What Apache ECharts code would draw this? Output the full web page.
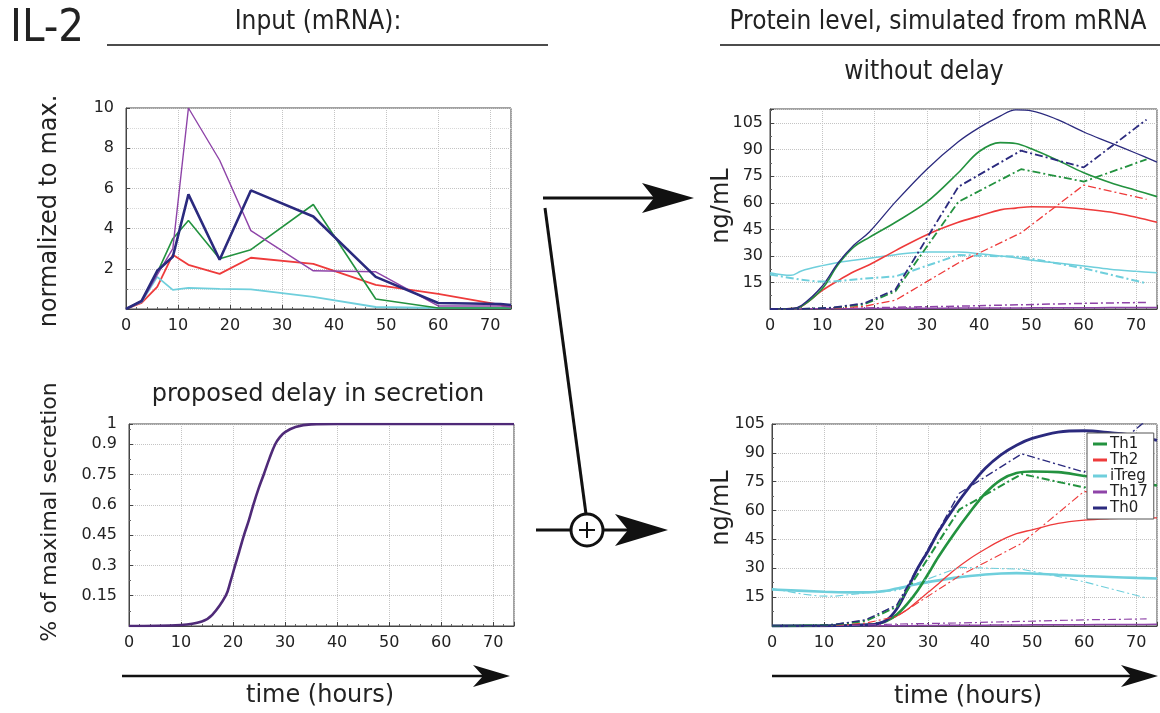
<!DOCTYPE html>
<html>
<head>
<meta charset="utf-8">
<script src="https://cdn.jsdelivr.net/npm/echarts@6/dist/echarts.min.js"></script>
<style>
  html, body { margin: 0; padding: 0; background: #fff; }
  #main { width: 1160px; height: 713px; }
</style>
</head>
<body>
<div id="main"></div>
<script>
  // mRNA input (normalized), sampled time points
  var tMrna = [0, 3, 6, 9, 12, 18, 24, 36, 48, 60, 72, 74];
  var mrnaTh1 = [0, 0.4, 1.8, 3.5, 4.4, 2.5, 2.95, 5.2, 0.5, 0.05, 0.05, 0.05];
  var mrnaTh2 = [0, 0.3, 1.1, 2.7, 2.2, 1.75, 2.55, 2.25, 1.2, 0.75, 0.2, 0.1];
  var mrnaITreg = [0, 0.35, 1.6, 0.95, 1.05, 1.0, 0.98, 0.6, 0.1, 0.05, 0.05, 0.05];
  var mrnaTh17 = [0, 0.35, 1.7, 3.0, 10, 7.4, 3.9, 1.9, 1.85, 0.15, 0.15, 0.1];
  var mrnaTh0 = [0, 0.4, 1.9, 2.6, 5.7, 2.45, 5.9, 4.6, 1.6, 0.3, 0.25, 0.2];

  // proposed delay in secretion
  var delayT = [0, 10, 14, 16, 18.6, 19.5, 20.4, 21.2, 22.1, 23, 23.9, 24.9, 25.9, 27, 28.1, 29, 30, 32, 35, 40, 74];
  var delayV = [0, 0.005, 0.022, 0.055, 0.15, 0.22, 0.3, 0.37, 0.45, 0.52, 0.6, 0.68, 0.75, 0.83, 0.9, 0.935, 0.96, 0.985, 0.998, 1, 1];

  // measured protein (dash-dot), same in both right panels
  var tData = [0, 3, 6, 9, 12, 18, 24, 36, 48, 60, 72];
  var dTh1 = [0, 0, 0.1, 0.3, 0.7, 2.6, 10, 60.5, 79, 72, 84.5];
  var dTh2 = [0, 0, 0.1, 0.2, 0.4, 1.5, 5, 26, 43, 70, 62];
  var dITreg = [19.5, 18, 16.5, 15.6, 15.5, 17.2, 18.4, 30.5, 29.5, 23, 14.5];
  var dTh17 = [0, 0, 0, 0.1, 0.2, 0.5, 1, 1.6, 2.4, 3.2, 3.7];
  var dTh0 = [0, 0, 0.1, 0.3, 0.8, 3.2, 11, 69, 89.5, 80, 107];

  // simulated without delay
  var tSim = [0, 4, 6, 10, 13, 16, 19, 24, 30, 36, 40, 44, 47, 50, 55, 60, 65, 70, 74];
  var nTh0 = [0, 0.2, 2, 13, 26, 36, 43.5, 60.5, 79, 94.5, 102.5, 109, 112.5, 112, 107, 100, 94, 88, 83];
  var nTh1 = [0, 0.2, 1.5, 11.5, 25, 35, 40.5, 49, 60.5, 77, 89, 94, 93.5, 90.5, 84, 77, 71.5, 67, 63.5];
  var nTh2 = [0, 0.2, 1.5, 10.5, 16, 21, 25, 33, 42, 49, 52.5, 56, 57, 57.8, 57.6, 56.5, 54.8, 51.8, 49];
  var nITreg = [20.5, 19, 21.5, 24.5, 26.3, 27.5, 28.7, 30.7, 32.2, 32.2, 31.2, 30, 29, 27.5, 26, 24.3, 22.5, 21.3, 20.5];
  var nTh17 = [0, 0, 0.05, 0.1, 0.15, 0.2, 0.25, 0.35, 0.4, 0.5, 0.55, 0.6, 0.6, 0.65, 0.7, 0.75, 0.8, 0.85, 0.9];

  // simulated with delay
  var tDel = [0, 10, 15, 18, 20, 22, 24, 26, 28, 30, 32, 35, 38, 41, 44, 47, 50, 55, 60, 65, 70, 74];
  var wTh0 = [0, 0.1, 0.3, 0.6, 1, 3, 9, 19, 30, 39, 49, 61.5, 72.5, 82, 89, 94, 97.5, 100.8, 101.5, 100.5, 99, 96.5];
  var wTh1 = [0, 0.1, 0.3, 0.6, 1, 2.5, 6, 11.5, 18.5, 27, 36, 48, 59, 69, 76, 79.5, 80.3, 80, 78, 76.5, 74.5, 73];
  var wTh2 = [0, 0.1, 0.3, 0.6, 1, 2.5, 5.2, 8.5, 13, 17.5, 22, 29, 35, 40, 44.5, 48, 50, 53.3, 55, 55.8, 56.2, 56.2];
  var wITreg = [19, 17.8, 17.5, 17.5, 17.7, 18.3, 19.5, 20.7, 21.8, 22.8, 23.7, 25, 26, 26.8, 27.3, 27.5, 27.3, 26.6, 26, 25.5, 25, 24.7];
  var wTh17 = [0, 0, 0, 0, 0.05, 0.1, 0.1, 0.15, 0.2, 0.25, 0.3, 0.35, 0.4, 0.45, 0.5, 0.55, 0.6, 0.65, 0.7, 0.75, 0.8, 0.85];

  var C_TH1 = '#23923f', C_TH2 = '#ee3b3b', C_ITREG = '#6fcfdc', C_TH17 = '#8e44a8', C_TH0 = '#2b2a7e';
  var DASHDOT = [8, 3, 2, 3];
  var FONT = 'DejaVu Sans';
  var TITLE_FONT = "'DejaVu Sans Condensed', 'DejaVu Sans'";

  function pair(xs, ys) {
    return xs.map(function (x, i) { return [x, ys[i]]; });
  }

  var grids = [
    { left: 126, top: 108, width: 385, height: 201 },
    { left: 129, top: 424, width: 385, height: 202 },
    { left: 770, top: 109, width: 387, height: 200 },
    { left: 772, top: 424, width: 388, height: 202 }
  ];
  grids.forEach(function (g) {
    g.show = true; g.borderColor = '#444'; g.borderWidth = 1; g.backgroundColor = '#fff';
  });

  function xAx(i) {
    return {
      gridIndex: i, type: 'value', min: 0, max: 74, interval: 10,
      axisLine: { onZero: false, lineStyle: { color: '#444' } },
      axisTick: { inside: true, length: 4, lineStyle: { color: '#444' } },
      minorTick: { show: true, splitNumber: 5, length: 2, lineStyle: { color: '#666' } },
      splitLine: { show: true, lineStyle: { type: 'dotted', color: '#c4c4c4' } },
      axisLabel: {
        color: '#222', fontFamily: FONT, fontSize: 16, margin: 9,
        formatter: function (v) { return Math.abs(v % 10) < 1e-6 ? String(v) : ''; }
      }
    };
  }
  function yAx(i, max, interval, step, showMax) {
    return {
      gridIndex: i, type: 'value', min: 0, max: max, interval: interval,
      axisLine: { lineStyle: { color: '#444' } },
      axisTick: { inside: true, length: 4, lineStyle: { color: '#444' } },
      minorTick: { show: true, splitNumber: 2, length: 2, lineStyle: { color: '#666' } },
      splitLine: { show: true, lineStyle: { type: 'dotted', color: '#c4c4c4' } },
      minorSplitLine: { show: i === 0, lineStyle: { type: 'dotted', color: '#d8d8d8' } },
      axisLabel: {
        color: '#222', fontFamily: FONT, fontSize: 16, margin: i >= 2 ? 7 : 12,
        formatter: function (v) {
          if (v <= 0) return '';
          if (showMax && Math.abs(v - max) < 1e-6) return String(max);
          var k = v / step;
          return Math.abs(k - Math.round(k)) < 1e-6 ? String(+v.toFixed(2)) : '';
        }
      }
    };
  }

  function line(name, gi, xs, ys, color, width, type, smooth) {
    return {
      name: name, type: 'line', xAxisIndex: gi, yAxisIndex: gi,
      data: pair(xs, ys), showSymbol: false, symbol: 'none',
      smooth: smooth ? (smooth === true ? 0.35 : smooth) : false, animation: false,
      lineStyle: { color: color, width: width, type: type || 'solid' },
      itemStyle: { color: color }
    };
  }

  var series = [
    // input mRNA
    line('Th2 mRNA', 0, tMrna, mrnaTh2, C_TH2, 1.8),
    line('iTreg mRNA', 0, tMrna, mrnaITreg, C_ITREG, 1.8),
    line('Th1 mRNA', 0, tMrna, mrnaTh1, C_TH1, 1.6),
    line('Th17 mRNA', 0, tMrna, mrnaTh17, C_TH17, 1.4),
    line('Th0 mRNA', 0, tMrna, mrnaTh0, C_TH0, 2.6),
    // delay
    line('delay', 1, delayT, delayV, '#4f2a78', 2.6, 'solid', 0.4),
    // without delay
    line('Th17 sim', 2, tSim, nTh17, C_TH17, 1.5, 'solid', true),
    line('iTreg sim', 2, tSim, nITreg, C_ITREG, 1.5, 'solid', true),
    line('Th2 sim', 2, tSim, nTh2, C_TH2, 1.6, 'solid', true),
    line('Th1 sim', 2, tSim, nTh1, C_TH1, 1.6, 'solid', true),
    line('Th0 sim', 2, tSim, nTh0, C_TH0, 1.3, 'solid', true),
    line('Th17 data', 2, tData, dTh17, C_TH17, 1.5, DASHDOT),
    line('iTreg data', 2, tData, dITreg, C_ITREG, 2, DASHDOT),
    line('Th2 data', 2, tData, dTh2, C_TH2, 1.3, DASHDOT),
    line('Th1 data', 2, tData, dTh1, C_TH1, 1.8, DASHDOT),
    line('Th0 data', 2, tData, dTh0, C_TH0, 1.8, DASHDOT),
    // with delay
    line('Th17', 3, tDel, wTh17, C_TH17, 1.5, 'solid', true),
    line('iTreg', 3, tDel, wITreg, C_ITREG, 2.6, 'solid', true),
    line('Th2', 3, tDel, wTh2, C_TH2, 1.3, 'solid', true),
    line('Th1', 3, tDel, wTh1, C_TH1, 2.6, 'solid', true),
    line('Th0', 3, tDel, wTh0, C_TH0, 2.8, 'solid', true),
    line('Th17 data d', 3, tData, dTh17, C_TH17, 1.2, DASHDOT),
    line('iTreg data d', 3, tData, dITreg, C_ITREG, 1.1, DASHDOT),
    line('Th2 data d', 3, tData, dTh2, C_TH2, 1.1, DASHDOT),
    line('Th1 data d', 3, tData, dTh1, C_TH1, 2, DASHDOT),
    line('Th0 data d', 3, tData, dTh0, C_TH0, 1.4, DASHDOT)
  ];

  function txt(x, y, s, size, opts) {
    opts = opts || {};
    return {
      type: 'text', x: x, y: y, rotation: opts.rot || 0, z: 10,
      style: {
        text: s, fill: '#222', fontSize: size, fontFamily: opts.font || FONT,
        align: opts.align || 'center', verticalAlign: 'middle'
      }
    };
  }
  function seg(x1, y1, x2, y2, w) {
    return { type: 'line', z: 10, shape: { x1: x1, y1: y1, x2: x2, y2: y2 }, style: { stroke: '#111', lineWidth: w || 3 } };
  }
  function head(tipX, y, len, half, notch) {
    return {
      type: 'polygon', z: 11,
      shape: { points: [[tipX, y], [tipX - len, y - half], [tipX - len + notch, y], [tipX - len, y + half]] },
      style: { fill: '#111' }
    };
  }

  var graphics = [
    txt(10, 29, 'IL-2', 45, { font: TITLE_FONT, align: 'left' }),
    txt(318, 22, 'Input (mRNA):', 26, { font: TITLE_FONT }),
    seg(107, 45, 548, 45, 1.5),
    txt(938, 22, 'Protein level, simulated from mRNA', 26, { font: TITLE_FONT }),
    seg(720, 45, 1160, 45, 1.5),
    txt(924, 72, 'without delay', 26, { font: TITLE_FONT }),
    txt(318, 395, 'proposed delay in secretion', 24),
    txt(50, 211, 'normalized to max.', 24, { rot: Math.PI / 2 }),
    txt(50, 512, '% of maximal secretion', 22, { rot: Math.PI / 2 }),
    txt(722, 206, 'ng/mL', 24, { rot: Math.PI / 2 }),
    txt(722, 508, 'ng/mL', 24, { rot: Math.PI / 2 }),
    txt(320, 696, 'time (hours)', 24),
    txt(968, 697, 'time (hours)', 24),
    // time arrows
    seg(122, 676, 488, 676, 2.5), head(510, 676, 37, 11, 10),
    seg(772, 676, 1135, 676, 2.5), head(1158, 676, 37, 11, 10),
    // flow arrows in the middle
    seg(543, 198, 656, 198, 3), head(694, 198, 52, 15, 12),
    seg(545, 208, 586, 514, 3),
    seg(536, 530, 571, 530, 3), seg(603, 530, 632, 530, 3), head(668, 530, 53, 16, 13),
    { type: 'circle', z: 10, shape: { cx: 587, cy: 530, r: 16 }, style: { fill: '#fff', stroke: '#111', lineWidth: 3 } },
    seg(579, 530, 595, 530, 2), seg(587, 522, 587, 538, 2)
  ];

  var chart = echarts.init(document.getElementById('main'));
  chart.setOption({
    animation: false,
    backgroundColor: '#fff',
    grid: grids,
    xAxis: [xAx(0), xAx(1), xAx(2), xAx(3)],
    yAxis: [yAx(0, 10, 2, 2), yAx(1, 1, 0.15, 0.15, true), yAx(2, 113, 15, 15), yAx(3, 105, 15, 15)],
    legend: {
      data: ['Th1', 'Th2', 'iTreg', 'Th17', 'Th0'],
      orient: 'vertical', left: 1087, top: 433,
      backgroundColor: '#fff', borderColor: '#555', borderWidth: 1,
      padding: [3, 6, 3, 6], itemGap: 0, itemWidth: 14, itemHeight: 3,
      icon: 'rect', selectedMode: false,
      textStyle: { color: '#222', fontFamily: FONT, fontSize: 15, lineHeight: 16, padding: [0, 0, 0, -2] }
    },
    series: series,
    graphic: { elements: graphics }
  });
</script>
</body>
</html>
